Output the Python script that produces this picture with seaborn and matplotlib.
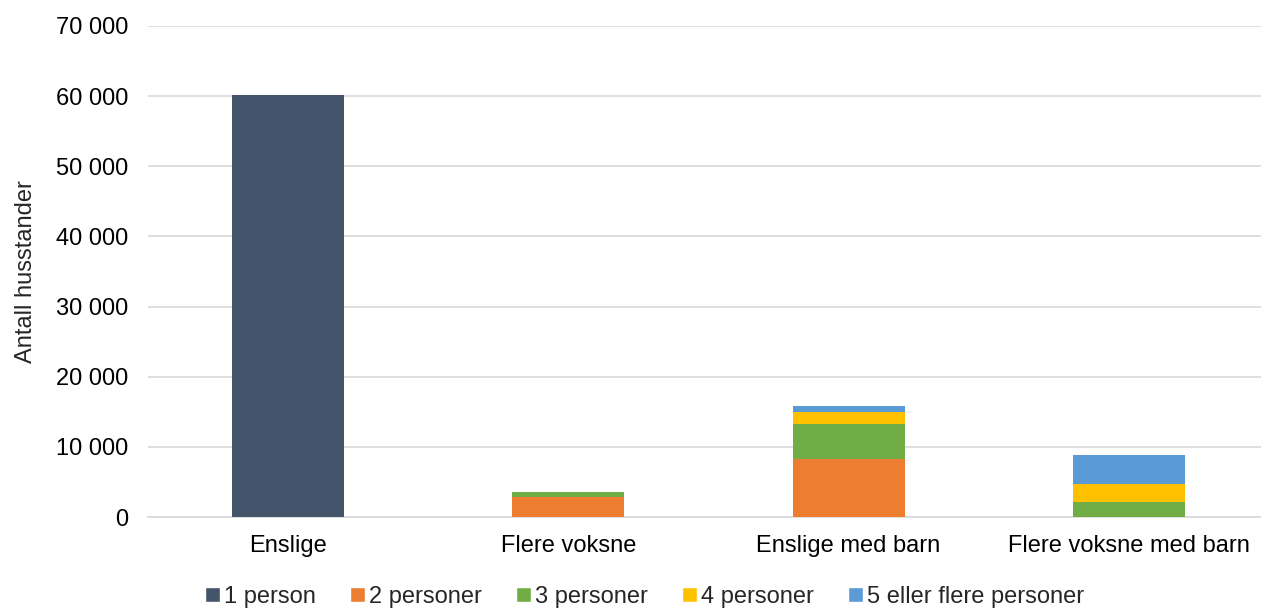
import numpy as np
import pandas as pd
import matplotlib
matplotlib.use('Agg')
import matplotlib.pyplot as plt
import seaborn as sns
from matplotlib.ticker import FuncFormatter
from matplotlib.patches import Patch

# ── Data ─────────────────────────────────────────────
categories = ['Enslige', 'Flere voksne', 'Enslige med barn', 'Flere voksne med barn']
sizes = ['1 person', '2 personer', '3 personer', '4 personer', '5 eller flere personer']
p1 = [60100, 0, 0, 0]
p2 = [0, 2900, 8200, 0]
p3 = [0, 600, 5000, 2100]
p4 = [0, 0, 1750, 2550]
p5 = [0, 0, 850, 4250]
colors = ['#44546A', '#ED7D31', '#70AD47', '#FFC000', '#5B9BD5']

vals = np.array([p1, p2, p3, p4, p5])
tops = vals.cumsum(axis=0)

sns.set_style('white')
plt.rcParams['font.family'] = ['Liberation Sans', 'DejaVu Sans']

fig = plt.figure(figsize=(12.61, 6.08), dpi=100)
ax = fig.add_axes([148 / 1261, 1 - 517 / 608, 1121 / 1261, (517 - 26) / 608])

# stacked bars: draw cumulative tops from the highest layer down
for i in range(len(sizes) - 1, -1, -1):
    df = pd.DataFrame({'cat': categories, 'top': tops[i]})
    sns.barplot(data=df, x='cat', y='top', color=colors[i], width=0.4,
                saturation=1, ax=ax, order=categories, linewidth=0, zorder=3)

ax.set_ylim(0, 70000)
ax.set_yticks(range(0, 70001, 10000))
ax.yaxis.set_major_formatter(FuncFormatter(lambda v, p: f'{int(v):,}'.replace(',', ' ')))
ax.set_xlim(-0.5, 3.5)
ax.grid(axis='y', color='#D9D9D9', linewidth=1.2, zorder=0)
ax.set_axisbelow(True)
for s in ['top', 'right', 'left']:
    ax.spines[s].set_visible(False)
ax.spines['bottom'].set_color('#D9D9D9')
ax.spines['bottom'].set_linewidth(1.2)
ax.tick_params(axis='both', length=0, labelsize=17, colors='black')
ax.tick_params(axis='x', pad=13)
ax.tick_params(axis='y', pad=14)
ax.set_xlabel('')
ax.set_ylabel('Antall husstander', fontsize=17, labelpad=14)

handles = [Patch(facecolor=c, label=l) for c, l in zip(colors, sizes)]
fig.legend(handles=handles, loc='center', bbox_to_anchor=(645 / 1261, 1 - 597 / 608),
           ncol=5, frameon=False, fontsize=17, handlelength=0.6, handleheight=0.6,
           handletextpad=0.2, columnspacing=1.45)

fig.savefig('out.png', dpi=100)
